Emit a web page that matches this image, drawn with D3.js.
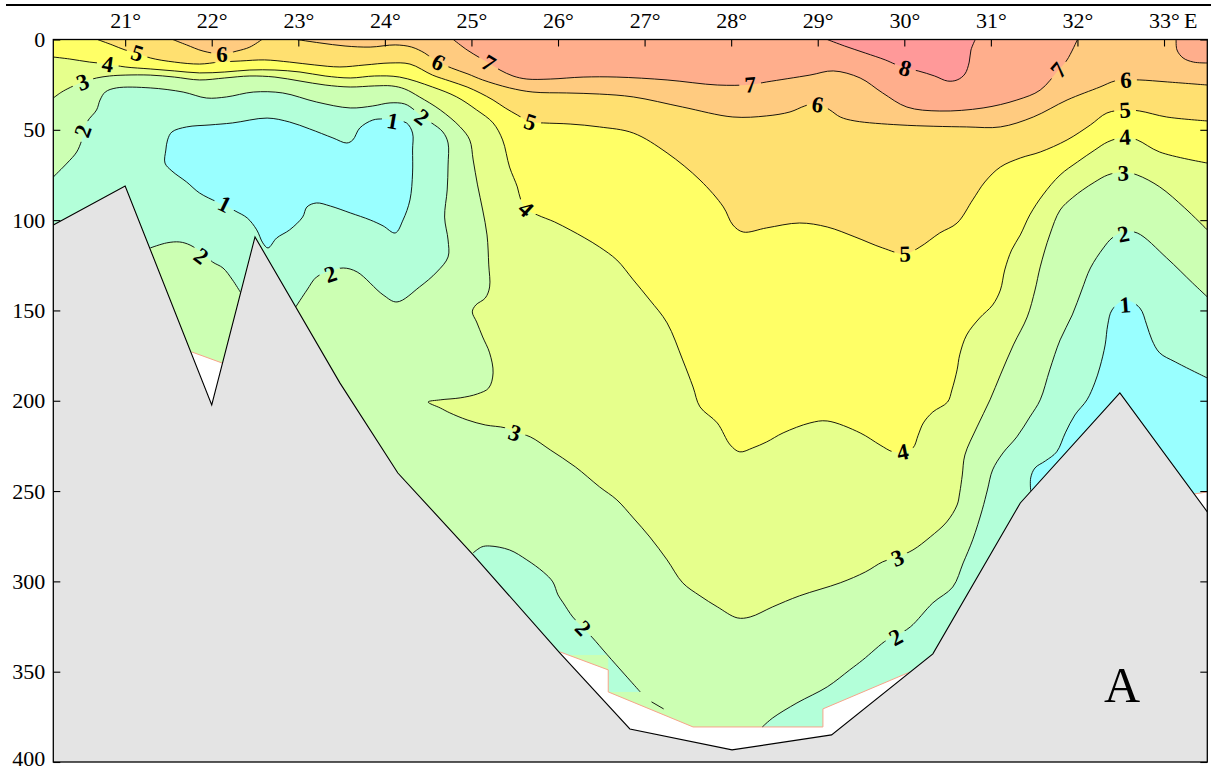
<!DOCTYPE html>
<html>
<head>
<meta charset="utf-8">
<title>Temperature section</title>
<script src="https://cdn.jsdelivr.net/npm/d3@7"></script>
<style>
  html, body { margin: 0; padding: 0; background: #fff; }
  svg { display: block; }
  text { font-family: "Liberation Serif", "Times New Roman", Times, serif; }
</style>
</head>
<body>
<svg id="chart" width="1211" height="772"></svg>
<script>
// ---------- axes ----------
const lonDomain = [20.17, 33.5];
const depthDomain = [0, 400];
const lonTicks = [21, 22, 23, 24, 25, 26, 27, 28, 29, 30, 31, 32, 33];
const lonTickLabels = ["21°", "22°", "23°", "24°", "25°", "26°", "27°", "28°", "29°", "30°", "31°", "32°", "33°"];
const eastMark = "E";
const depthTicks = [0, 50, 100, 150, 200, 250, 300, 350, 400];
const panelLetter = "A";

// ---------- sea floor (lon, depth m) ----------
const bottomProfile = [[20.17,102.7],[21.0,81.1],[22.0,202.3],[22.5,109.3],[23.48,190.1],[24.15,240.0],[25.02,285.3],[26.02,339.6],[26.83,381.7],[28.01,393.3],[29.16,385.0],[30.33,340.1],[31.34,256.6],[32.49,195.7],[33.5,261.5]];

// ---------- isotherms (lon, depth m) ----------
const iso1West = [[24.09,44.6],[24.25,46.2],[24.32,51.8],[24.32,61.2],[24.32,73.9],[24.29,88.8],[24.21,99.9],[24.12,107.1],[23.98,103.2],[23.83,99.9],[23.60,96.0],[23.37,92.2],[23.21,90.5],[23.10,92.7],[23.05,98.3],[22.90,105.4],[22.75,109.9],[22.65,115.4],[22.59,112.6],[22.52,105.4],[22.41,98.8],[22.27,94.9],[22.17,92.2],[22.06,89.9],[21.86,85.0],[21.71,78.9],[21.54,72.8],[21.46,68.4],[21.47,61.2],[21.49,55.6],[21.54,51.2],[21.71,48.4],[21.98,47.3],[22.24,46.2],[22.64,43.5],[22.90,45.7],[23.13,49.5],[23.40,54.5],[23.56,57.3],[23.63,55.6],[23.71,49.0],[23.86,44.6],[23.98,44.0]];
const iso1East = [[31.46,249.9],[31.46,242.7],[31.51,237.2],[31.63,233.3],[31.76,228.3],[31.86,217.8],[31.97,207.9],[32.11,199.5],[32.20,190.1],[32.26,181.3],[32.32,169.1],[32.35,158.0],[32.40,149.7],[32.55,144.2],[32.72,148.6],[32.80,158.0],[32.86,166.3],[32.95,173.5],[33.13,178.5],[33.5,187.4]];

const iso2West = [[20.17,76.1],[20.33,68.4],[20.44,62.3],[20.50,55.6],[20.56,45.7],[20.67,39.0],[20.71,33.5],[20.77,29.1],[20.90,26.8],[21.29,26.8],[21.67,29.1],[21.94,32.4],[22.17,31.8],[22.48,29.1],[22.82,29.6],[23.21,34.6],[23.60,37.9],[23.86,36.8],[24.06,35.1],[24.23,35.7],[24.34,39.0],[24.43,42.9],[24.54,46.2],[24.67,51.2],[24.73,57.3],[24.73,69.5],[24.72,83.3],[24.69,98.3],[24.73,111.0],[24.73,120.4],[24.60,128.7],[24.40,137.0],[24.14,145.3],[23.98,141.4],[23.68,128.7],[23.52,126.5],[23.37,128.2],[23.21,131.5],[23.10,138.7],[22.97,148.1]];
const iso2Trough = [[21.29,115.4],[21.48,112.6],[21.63,112.1],[21.75,113.8],[21.89,118.2],[22.01,123.2],[22.13,126.5],[22.24,133.1],[22.33,139.8]];
const iso2DeepWest = [[25.02,284.2],[25.12,280.9],[25.21,280.4],[25.44,282.6],[25.64,288.1],[25.83,294.8],[25.94,300.3],[26.00,307.5],[26.06,311.9],[26.17,319.7],[26.29,325.8],[26.40,331.3],[26.57,340.7],[26.95,361.2]];
const iso2DeepWestTail = [[27.08,366.7],[27.22,370.6]];
const iso2East = [[28.36,380.6],[28.48,375.6],[28.76,367.3],[29.11,358.4],[29.37,349.0],[29.52,343.5],[29.80,332.4],[29.90,330.2],[30.07,325.2],[30.33,311.9],[30.56,303.1],[30.68,289.8],[30.79,277.0],[30.90,260.4],[30.96,249.4],[31.02,238.3],[31.14,228.9],[31.30,220.0],[31.45,209.0],[31.57,199.5],[31.68,182.9],[31.80,166.3],[31.94,152.5],[32.05,138.7],[32.15,126.5],[32.30,115.4],[32.40,109.9],[32.53,106.6],[32.69,107.1],[33.03,120.9],[33.33,134.8],[33.5,142.5]];

const iso3 = [[20.17,32.4],[20.25,29.6],[20.33,27.4],[20.51,23.5],[20.67,21.3],[20.82,20.2],[21.00,19.7],[21.29,19.7],[21.57,20.8],[21.86,22.4],[22.15,21.3],[22.44,20.2],[22.73,20.8],[23.02,23.0],[23.31,25.2],[23.60,26.3],[23.88,25.7],[24.08,25.7],[24.23,27.4],[24.40,31.8],[24.64,39.0],[24.87,48.4],[24.98,55.6],[25.02,66.7],[25.07,80.5],[25.13,94.4],[25.18,108.2],[25.20,124.8],[25.21,137.0],[25.16,143.1],[25.05,147.0],[25.01,150.8],[25.06,156.4],[25.13,164.7],[25.21,173.5],[25.25,184.6],[25.20,192.9],[25.07,196.2],[24.87,198.4],[24.64,199.5],[24.50,200.7],[24.64,204.0],[24.75,206.7],[24.95,210.6],[25.16,213.4],[25.39,215.0],[25.50,217.3],[25.68,220.0],[25.91,227.2],[26.20,236.6],[26.48,247.7],[26.68,254.9],[26.87,264.9],[27.06,275.4],[27.26,288.1],[27.44,300.8],[27.64,308.0],[27.84,314.1],[28.07,320.2],[28.22,319.7],[28.48,314.1],[28.79,308.0],[29.26,300.8],[29.55,294.8],[29.75,289.2],[29.92,286.5],[30.10,282.6],[30.30,275.4],[30.49,267.1],[30.61,257.7],[30.64,251.0],[30.67,241.1],[30.70,230.0],[30.84,214.5],[30.99,199.5],[31.11,185.7],[31.26,169.1],[31.42,153.6],[31.51,138.7],[31.57,125.9],[31.68,108.2],[31.80,94.4],[31.94,87.7],[32.06,83.3],[32.20,78.9],[32.35,75.0],[32.53,73.3],[32.69,75.0],[32.95,81.6],[33.24,93.3],[33.5,105.4]];

const iso4 = [[20.17,9.7],[20.36,10.8],[20.59,12.5],[20.80,13.6],[21.00,15.2],[21.29,16.3],[21.57,17.4],[21.86,18.5],[22.15,18.0],[22.44,16.9],[22.73,16.9],[23.02,18.0],[23.31,20.2],[23.60,21.3],[23.88,20.2],[24.17,20.8],[24.55,26.3],[24.83,31.8],[25.06,39.0],[25.25,46.2],[25.36,55.6],[25.44,70.6],[25.53,81.6],[25.57,88.8],[25.63,93.8],[25.76,97.1],[25.96,101.0],[26.14,105.4],[26.31,109.9],[26.48,114.9],[26.68,122.1],[26.87,133.1],[27.06,144.2],[27.26,156.9],[27.44,177.4],[27.56,192.4],[27.64,203.4],[27.84,212.3],[27.99,224.5],[28.10,228.3],[28.25,226.1],[28.41,222.8],[28.60,217.8],[28.91,212.3],[29.11,211.2],[29.49,217.8],[29.72,224.5],[29.87,228.3],[29.98,228.3],[30.10,226.1],[30.16,219.1],[30.22,212.3],[30.33,206.2],[30.50,200.7],[30.55,194.0],[30.61,182.9],[30.64,174.6],[30.72,163.6],[30.87,154.2],[31.02,147.0],[31.11,138.7],[31.16,127.6],[31.24,116.5],[31.34,108.2],[31.45,97.1],[31.60,86.1],[31.80,75.0],[32.00,67.8],[32.20,61.2],[32.35,56.7],[32.55,54.0],[32.69,55.6],[32.95,62.3],[33.5,68.4]];

const iso5 = [[20.68,0],[20.85,3.0],[21.00,5.8],[21.14,7.5],[21.29,10.2],[21.57,12.5],[21.86,13.6],[22.09,12.5],[22.33,11.9],[22.61,11.3],[22.90,12.5],[23.19,14.1],[23.48,15.2],[23.77,14.1],[24.06,13.0],[24.29,13.6],[24.55,19.7],[24.75,23.0],[24.95,26.3],[25.10,29.6],[25.25,33.5],[25.39,37.9],[25.53,41.8],[25.68,45.7],[25.83,46.2],[26.14,46.8],[26.48,48.4],[26.87,51.8],[27.26,62.8],[27.64,77.8],[27.91,92.7],[28.02,102.7],[28.14,106.6],[28.41,104.3],[28.79,101.6],[29.11,103.8],[29.43,109.3],[29.75,115.4],[30.01,118.7],[30.18,114.9],[30.41,107.1],[30.61,101.6],[30.79,88.8],[30.93,78.9],[31.11,70.6],[31.34,65.6],[31.57,62.3],[31.88,55.6],[32.15,47.3],[32.34,40.7],[32.55,39.0],[32.72,39.6],[33.03,42.9],[33.5,45.1]];

const iso6West = [[21.55,0],[21.71,3.0],[21.90,6.4],[22.12,8.0],[22.29,6.4],[22.44,4.2],[22.58,0]];
const iso6 = [[22.98,0],[23.25,1.9],[23.54,3.6],[23.83,4.2],[24.12,3.0],[24.31,4.2],[24.46,7.5],[24.54,10.2],[24.62,12.5],[24.77,15.8],[24.96,19.1],[25.13,22.4],[25.44,26.8],[25.71,29.1],[26.10,29.6],[26.48,30.2],[26.87,31.8],[27.44,37.4],[28.02,42.9],[28.41,42.3],[28.68,40.1],[28.85,36.8],[28.99,35.2],[29.14,39.0],[29.26,42.9],[29.43,45.1],[29.95,47.3],[30.72,48.4],[31.11,48.4],[31.49,42.9],[31.88,33.5],[32.26,26.3],[32.43,23.0],[32.57,22.4],[32.72,22.4],[33.04,23.5],[33.5,25.2]];

const iso7 = [[24.79,0],[24.95,5.8],[25.10,10.2],[25.20,13.0],[25.33,16.9],[25.48,20.2],[25.64,21.9],[25.91,21.9],[26.29,20.8],[26.68,20.8],[27.26,22.4],[27.84,25.2],[28.22,25.0],[28.41,23.5],[28.91,19.7],[29.18,17.4],[29.49,21.3],[29.75,29.6],[30.03,37.4],[30.41,39.6],[30.91,37.9],[31.30,33.5],[31.57,28.0],[31.78,16.9],[31.88,11.3],[32.00,0]];
const iso7East = [[33.14,0],[33.15,5.8],[33.22,10.2],[33.34,12.5],[33.5,13.0]];

const iso8 = [[29.11,0],[29.31,3.6],[29.55,7.5],[29.78,11.3],[29.89,13.6],[30.01,15.8],[30.16,17.4],[30.35,20.2],[30.50,23.0],[30.61,22.4],[30.70,19.1],[30.75,12.5],[30.77,5.8],[30.82,0]];

// grid-cell edge closing the <2 °C patch on the western slope of the deep basin
const below2DeepWestEdge = [[26.58,361.2],[26.58,340.7],[26.02,340.7],[26.02,365.6],[25.02,310.3]];

// upper edges of the parts of the section without observations
const noDataTrough = [[21.77,173.0],[22.12,179.1]];
const noDataBasin = [[26.02,339.0],[26.58,349.0],[26.58,361.2],[27.56,380.6],[29.06,380.6],[29.06,370.6],[30.07,350.1]];
const noDataEast = [[33.35,251.6],[33.5,250.5]];

// isotherm labels: value, lon, depth
const contourLabels = [
  [1, 24.09, 45.1], [1, 22.15, 91.1], [1, 32.55, 146.9],
  [2, 20.51, 50.6], [2, 24.43, 42.9], [2, 23.37, 129.8], [2, 21.88, 119.8], [2, 26.29, 325.8], [2, 29.90, 330.8], [2, 32.53, 107.7],
  [3, 20.51, 23.5], [3, 25.50, 217.8], [3, 29.92, 287.0], [3, 32.53, 74.0],
  [4, 20.80, 13.6], [4, 25.63, 93.8], [4, 29.98, 228.3], [4, 32.55, 54.0],
  [5, 21.14, 7.5], [5, 25.68, 45.7], [5, 30.01, 118.7], [5, 32.55, 39.0],
  [6, 22.12, 8.0], [6, 24.62, 12.5], [6, 29.00, 36.0], [6, 32.56, 22.4],
  [7, 25.20, 13.0], [7, 28.22, 25.0], [7, 31.78, 16.9],
  [8, 30.01, 15.8]
];

// ---------- drawing ----------
const W = 1211, H = 772;
const serif = '"Liberation Serif", "Times New Roman", Times, serif';
const bandColors = ["#99ffff", "#b3ffd9", "#ccffb3", "#e6ff8c", "#ffff66", "#ffe070", "#ffcb80", "#ffae8c", "#ff9999"];
const groundColor = "#e4e4e4";

const x = d3.scaleLinear().domain(lonDomain).range([53.3, 1207.3]);
const y = d3.scaleLinear().domain(depthDomain).range([39.5, 762]);
const [x0, x1] = x.range();
const [y0, y1] = y.range();
const lonMin = lonDomain[0], lonMax = lonDomain[1], zMax = depthDomain[1];

const svg = d3.select("#chart");
const defs = svg.append("defs");
defs.append("clipPath").attr("id", "plotClip")
  .append("rect").attr("x", x0).attr("y", y0).attr("width", x1 - x0).attr("height", y1 - y0);

const lineGen = d3.line().x(d => x(d[0])).y(d => y(d[1])).curve(d3.curveCatmullRom.alpha(0.5));
const loopGen = d3.line().x(d => x(d[0])).y(d => y(d[1])).curve(d3.curveCatmullRomClosed.alpha(0.5));
const cont = pts => lineGen(pts).replace(/^M/, "L");
const seg = pts => pts.map(p => `L${x(p[0])},${y(p[1])}`).join("");
const poly = pts => "M" + pts.map(p => `${x(p[0])},${y(p[1])}`).join("L") + "Z";

const surfaceCorners = [[lonMax, 0], [lonMin, 0]];

// temperature bands, painted from cold to warm
const fills = [
  { band: 2, d: poly([[lonMin, 0], [lonMax, 0], [lonMax, zMax], [lonMin, zMax]]) },
  { band: 1, d: lineGen(iso2West) + seg([bottomProfile[3]]) + cont(iso2Trough.slice().reverse()) + seg([bottomProfile[1], bottomProfile[0]]) + "Z" },
  { band: 1, d: lineGen(iso2DeepWest) + seg(below2DeepWestEdge) + "Z" },
  { band: 1, d: lineGen(iso2East) + seg([[lonMax, zMax], [iso2East[0][0], zMax]]) + "Z" },
  { band: 0, d: loopGen(iso1West) },
  { band: 0, d: lineGen(iso1East) + seg([[lonMax, zMax], [iso1East[0][0], zMax]]) + "Z" },
  { band: 3, d: lineGen(iso3) + seg(surfaceCorners) + "Z" },
  { band: 4, d: lineGen(iso4) + seg(surfaceCorners) + "Z" },
  { band: 5, d: lineGen(iso5) + seg([[lonMax, 0]]) + "Z" },
  { band: 6, d: lineGen(iso6West) + "Z" },
  { band: 6, d: lineGen(iso6) + seg([[lonMax, 0]]) + "Z" },
  { band: 7, d: lineGen(iso7) + "Z" },
  { band: 7, d: lineGen(iso7East) + seg([[lonMax, 0]]) + "Z" },
  { band: 8, d: lineGen(iso8) + "Z" }
];

const plot = svg.append("g").attr("clip-path", "url(#plotClip)");

plot.append("g").selectAll("path").data(fills).join("path")
  .attr("d", f => f.d)
  .attr("fill", f => bandColors[f.band])
  .attr("stroke", "none");

// areas without data
const noData = [noDataTrough, noDataBasin, noDataEast];
const noDataG = plot.append("g");
noDataG.selectAll("path.area").data(noData).join("path").attr("class", "area")
  .attr("d", e => poly(e.concat([[e[e.length - 1][0], zMax], [e[0][0], zMax]])))
  .attr("fill", "#fff");
noDataG.selectAll("path.edge").data(noData).join("path").attr("class", "edge")
  .attr("d", e => "M" + e.map(p => `${x(p[0])},${y(p[1])}`).join("L"))
  .attr("fill", "none").attr("stroke", "#f7a48a").attr("stroke-width", 1);

// isotherms
const isolines = [
  { level: 1, pts: iso1West, closed: true },
  { level: 1, pts: iso1East },
  { level: 2, pts: iso2West },
  { level: 2, pts: iso2Trough },
  { level: 2, pts: iso2DeepWest },
  { level: 2, pts: iso2DeepWestTail },
  { level: 2, pts: iso2East },
  { level: 3, pts: iso3 },
  { level: 4, pts: iso4 },
  { level: 5, pts: iso5 },
  { level: 6, pts: iso6West },
  { level: 6, pts: iso6 },
  { level: 7, pts: iso7 },
  { level: 7, pts: iso7East },
  { level: 8, pts: iso8 }
];

// label orientation follows the local direction of its isotherm
function labelAngle(v, lon, dep) {
  const px = x(lon), py = y(dep);
  let best = null, bestD = Infinity;
  isolines.filter(l => l.level === v).forEach(l => {
    l.pts.forEach((p, i) => {
      const d = Math.hypot(x(p[0]) - px, y(p[1]) - py);
      if (d < bestD) { bestD = d; best = { l, i }; }
    });
  });
  if (!best) return 0;
  const pts = best.l.pts, n = pts.length, i = best.i;
  const prev = i > 0 ? pts[i - 1] : (best.l.closed ? pts[n - 1] : pts[i]);
  const next = i < n - 1 ? pts[i + 1] : (best.l.closed ? pts[0] : pts[i]);
  let a = Math.atan2(y(next[1]) - y(prev[1]), x(next[0]) - x(prev[0])) * 180 / Math.PI;
  if (a > 90) a -= 180;
  if (a < -90) a += 180;
  return a;
}
const labels = contourLabels.map(([v, lon, dep]) => ({ v, px: x(lon), py: y(dep), a: labelAngle(v, lon, dep) }));

const gapMask = defs.append("mask").attr("id", "labelGaps")
  .attr("maskUnits", "userSpaceOnUse").attr("x", 0).attr("y", 0).attr("width", W).attr("height", H);
gapMask.append("rect").attr("x", 0).attr("y", 0).attr("width", W).attr("height", H).attr("fill", "#fff");
gapMask.selectAll("ellipse").data(labels).join("ellipse")
  .attr("transform", d => `translate(${d.px},${d.py}) rotate(${d.a})`)
  .attr("rx", 11).attr("ry", 11).attr("fill", "#000");

plot.append("g").attr("mask", "url(#labelGaps)")
  .selectAll("path").data(isolines).join("path")
  .attr("d", l => l.closed ? loopGen(l.pts) : lineGen(l.pts))
  .attr("fill", "none").attr("stroke", "#000").attr("stroke-width", 0.9);

// sea floor
plot.append("path")
  .attr("d", poly(bottomProfile.concat([[lonMax, zMax], [lonMin, zMax]])))
  .attr("fill", groundColor);
plot.append("path")
  .attr("d", "M" + bottomProfile.map(p => `${x(p[0])},${y(p[1])}`).join("L"))
  .attr("fill", "none").attr("stroke", "#000").attr("stroke-width", 1.1);

// isotherm labels
plot.append("g").selectAll("text").data(labels).join("text")
  .attr("transform", d => `translate(${d.px},${d.py}) rotate(${d.a})`)
  .attr("text-anchor", "middle").attr("dy", "0.34em")
  .attr("font-family", serif)
  .attr("font-size", 23).attr("font-weight", "bold").attr("fill", "#000")
  .text(d => d.v);

// frame
svg.append("rect").attr("x", x0).attr("y", y0).attr("width", x1 - x0).attr("height", y1 - y0)
  .attr("fill", "none").attr("stroke", "#000").attr("stroke-width", 1.3);
svg.append("line").attr("x1", 6).attr("x2", W).attr("y1", 5).attr("y2", 5)
  .attr("stroke", "#000").attr("stroke-width", 2.2);

// axes
const topAxis = svg.append("g").attr("transform", `translate(0,${y0})`)
  .call(d3.axisTop(x).tickValues(lonTicks).tickFormat((d, i) => lonTickLabels[i])
    .tickSizeInner(-7).tickSizeOuter(0).tickPadding(12));
topAxis.attr("font-family", serif);
topAxis.select(".domain").remove();
topAxis.selectAll("text").attr("font-size", 22).attr("font-family", serif);
topAxis.selectAll("line").attr("stroke-width", 1.1);
const lastTick = topAxis.selectAll(".tick text").nodes().pop();
const bb = lastTick.getBBox();
const lastG = d3.select(lastTick.parentNode);
lastG.append("text").attr("x", bb.x + bb.width + 4).attr("y", lastTick.getAttribute("y"))
  .attr("dy", lastTick.getAttribute("dy")).attr("fill", "#000").attr("font-family", serif)
  .attr("font-size", 22).attr("text-anchor", "start").text(eastMark);

const leftAxis = svg.append("g").attr("transform", `translate(${x0},0)`)
  .call(d3.axisLeft(y).tickValues(depthTicks).tickSizeInner(-7).tickSizeOuter(0).tickPadding(8));
leftAxis.attr("font-family", serif);
leftAxis.select(".domain").remove();
leftAxis.selectAll("text").attr("font-size", 22).attr("font-family", serif);
// keep the deepest label inside the page
leftAxis.selectAll(".tick text").filter(d => d === zMax).attr("dy", "0.18em");
leftAxis.selectAll("line").attr("stroke-width", 1.1);

const rightAxis = svg.append("g").attr("transform", `translate(${x1},0)`)
  .call(d3.axisRight(y).tickValues(depthTicks).tickSizeInner(-7).tickSizeOuter(0).tickFormat(""));
rightAxis.select(".domain").remove();
rightAxis.selectAll("line").attr("stroke-width", 1.1);

svg.append("text").attr("x", 1122).attr("y", 702).attr("text-anchor", "middle")
  .attr("font-family", serif)
  .attr("font-size", 50).attr("fill", "#000").text(panelLetter);
</script>
</body>
</html>
